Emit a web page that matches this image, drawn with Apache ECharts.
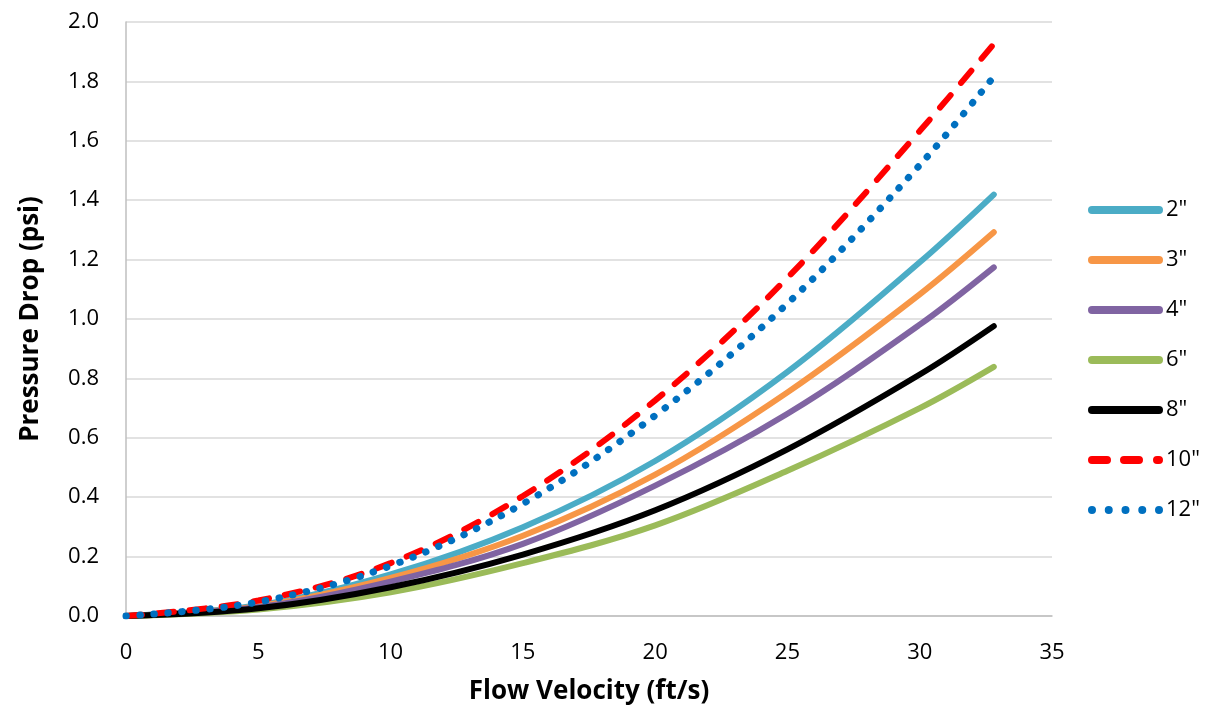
<!DOCTYPE html>
<html>
<head>
<meta charset="utf-8">
<script src="https://cdn.jsdelivr.net/npm/echarts@6/dist/echarts.min.js"></script>
<style>html,body{margin:0;padding:0;background:#fff}#c{width:1210px;height:712px}</style>
</head>
<body>
<div id="c"></div>
<script>
const velocity = [0, 5, 10, 15, 20, 25, 30, 32.8];
const names = ['2"', '3"', '4"', '6"', '8"', '10"', '12"'];
const p2  = [0, 0.036, 0.140, 0.299, 0.522, 0.822, 1.191, 1.419];
const p3  = [0, 0.033, 0.128, 0.270, 0.476, 0.753, 1.083, 1.292];
const p4  = [0, 0.030, 0.116, 0.243, 0.439, 0.681, 0.981, 1.174];
const p6  = [0, 0.022, 0.080, 0.178, 0.305, 0.489, 0.700, 0.839];
const p8  = [0, 0.026, 0.097, 0.207, 0.356, 0.561, 0.813, 0.976];
const p10 = [0, 0.052, 0.178, 0.404, 0.726, 1.139, 1.633, 1.926];
const p12 = [0, 0.047, 0.169, 0.378, 0.675, 1.052, 1.518, 1.816];
const values = [p2, p3, p4, p6, p8, p10, p12];
const colors = ['#4BACC6', '#F79646', '#8064A2', '#9BBB59', '#000000', '#FF0000', '#0070C0'];
const lineTypes = ['solid', 'solid', 'solid', 'solid', 'solid', [16, 16], [0.5, 13.5]];
const widths = [6, 6, 6, 6, 6, 6, 7];

const solidIcon = 'path://M4 0H71A4 4 0 0 1 71 8H4A4 4 0 0 1 4 0Z';
const dashIcon = 'path://M4 0H19A4 4 0 0 1 19 8H4A4 4 0 0 1 4 0Z M36 0H51A4 4 0 0 1 51 8H36A4 4 0 0 1 36 0Z M69 0H71A4 4 0 0 1 71 8H69A4 4 0 0 1 69 0Z';
const dotIcon = 'path://M0 4A4 4 0 1 0 8 4A4 4 0 1 0 0 4Z M16.75 4A4 4 0 1 0 24.75 4A4 4 0 1 0 16.75 4Z M33.5 4A4 4 0 1 0 41.5 4A4 4 0 1 0 33.5 4Z M50.25 4A4 4 0 1 0 58.25 4A4 4 0 1 0 50.25 4Z M67 4A4 4 0 1 0 75 4A4 4 0 1 0 67 4Z';
const icons = [solidIcon, solidIcon, solidIcon, solidIcon, solidIcon, dashIcon, dotIcon];

const font = '"Open Sans", "Liberation Sans", sans-serif';
const chart = echarts.init(document.getElementById('c'));
chart.setOption({
  animation: false,
  grid: { left: 126, right: 158, top: 22, bottom: 96 },
  legend: {
    orient: 'vertical',
    left: 1083,
    top: 193,
    itemWidth: 75,
    itemHeight: 8,
    itemGap: 26,
    textStyle: { fontSize: 22, lineHeight: 24, fontFamily: font, color: '#000', padding: [0, 0, 0, -2] },
    data: names.map((n, i) => ({ name: n, icon: icons[i], itemStyle: { color: colors[i] } }))
  },
  xAxis: {
    type: 'value', min: 0, max: 35, interval: 5,
    name: 'Flow Velocity (ft/s)', nameLocation: 'middle', nameGap: 63,
    nameTextStyle: { fontSize: 26, fontWeight: 'bold', fontFamily: font, color: '#000' },
    axisLine: { show: true, lineStyle: { color: '#bfbfbf', width: 1.5 } },
    axisTick: { show: false },
    splitLine: { show: false },
    axisLabel: { fontSize: 22, fontFamily: font, color: '#000', margin: 26 }
  },
  yAxis: {
    type: 'value', min: 0, max: 2, interval: 0.2,
    name: 'Pressure Drop (psi)', nameLocation: 'middle', nameGap: 82, nameRotate: 90,
    nameTextStyle: { fontSize: 26, fontWeight: 'bold', fontFamily: font, color: '#000' },
    axisLine: { show: true, lineStyle: { color: '#bfbfbf', width: 1.5 } },
    axisTick: { show: false },
    splitLine: { show: true, lineStyle: { color: '#d9d9d9', width: 1.5 } },
    axisLabel: { fontSize: 22, fontFamily: font, color: '#000', margin: 27, formatter: v => v.toFixed(1) }
  },
  series: names.map((n, i) => ({
    name: n,
    type: 'line',
    smooth: 0.35,
    symbol: 'none',
    color: colors[i],
    data: velocity.map((v, j) => [v, values[i][j]]),
    lineStyle: { color: colors[i], width: widths[i], type: lineTypes[i], cap: 'round' }
  }))
});
</script>
</body>
</html>
